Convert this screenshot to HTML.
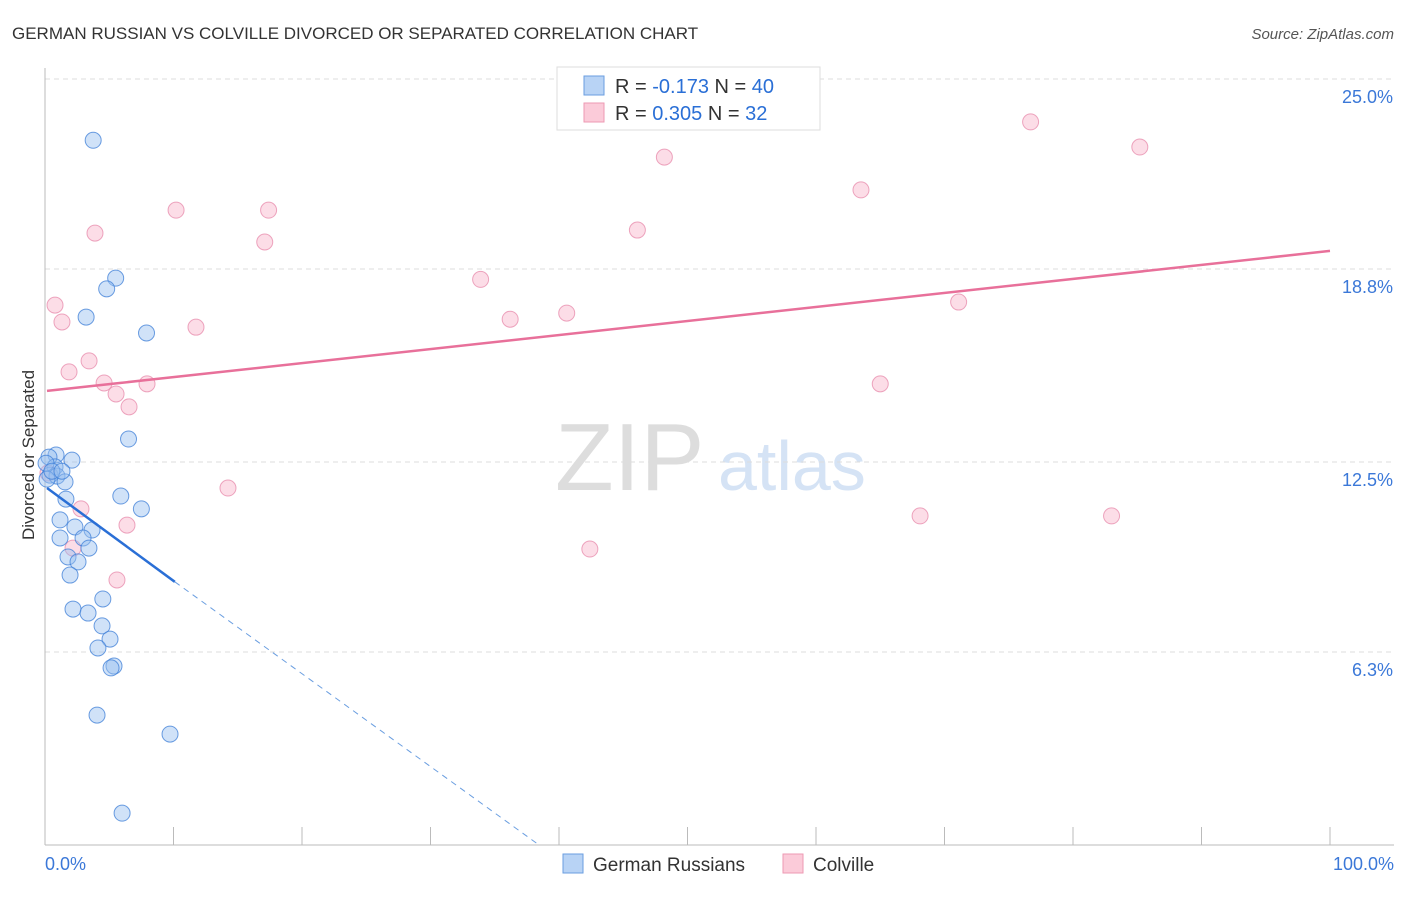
<!DOCTYPE html>
<html><head><meta charset="utf-8"><style>
body{margin:0;background:#fff;font-family:"Liberation Sans",sans-serif}
svg text{font-family:"Liberation Sans",sans-serif}
</style></head><body>
<svg id="c" width="1406" height="892" xmlns="http://www.w3.org/2000/svg">
<text x="12" y="39" font-size="17" fill="#333">GERMAN RUSSIAN VS COLVILLE DIVORCED OR SEPARATED CORRELATION CHART</text>
<text x="1394" y="39" font-size="15" fill="#555" text-anchor="end" font-style="italic">Source: ZipAtlas.com</text>
<text x="34" y="455" font-size="17" fill="#333" text-anchor="middle" transform="rotate(-90 34 455)">Divorced or Separated</text>
<text x="555" y="490" font-size="96" fill="#ddd" font-family="Liberation Serif">ZIP</text>
<text x="718" y="490" font-size="70" fill="#d5e3f5">atlas</text>
<g id="grid"></g><g id="pts"></g><g id="lines"></g>
<g>
<rect x="557" y="67" width="263" height="63" fill="#fff" stroke="#ddd"/>
<rect x="584" y="76" width="20" height="19" fill="#b8d3f5" stroke="#6a9ee0"/>
<rect x="584" y="103" width="20" height="19" fill="#fbcbd9" stroke="#ee9ab3"/>
<text x="615" y="93" font-size="20" fill="#333">R = <tspan fill="#2a6fd6">-0.173</tspan>   N = <tspan fill="#2a6fd6">40</tspan></text>
<text x="615" y="120" font-size="20" fill="#333">R = <tspan fill="#2a6fd6"> 0.305</tspan>   N = <tspan fill="#2a6fd6"> 32</tspan></text>
</g>
<g>
<rect x="563" y="854" width="20" height="19" fill="#b8d3f5" stroke="#6a9ee0"/>
<text x="593" y="871" font-size="19" fill="#333">German Russians</text>
<rect x="783" y="854" width="20" height="19" fill="#fbcbd9" stroke="#ee9ab3"/>
<text x="813" y="871" font-size="19" fill="#333">Colville</text>
</g>
</svg>
<script>
const yTicks=[25.0,18.8,12.5,6.3];
const yTickLabels=["25.0%","18.8%","12.5%","6.3%"];
const xTickLabels=["0.0%","100.0%"];
const blueX=[3.75,5.5,4.8,3.2,7.9,6.5,0.86,0.31,2.1,0.78,0.39,0.93,1.56,1.63,5.9,7.5,1.17,2.33,3.66,1.17,2.96,3.42,1.79,2.57,1.95,4.5,2.18,3.35,4.44,5.06,4.12,5.37,5.14,4.05,9.73,6.0,0.08,0.16,0.54,1.32];
const blueY=[23.0,18.5,18.15,17.23,16.71,13.25,12.73,12.66,12.56,12.34,12.07,12.04,11.85,11.29,11.39,10.97,10.61,10.38,10.28,10.02,10.02,9.69,9.4,9.24,8.81,8.03,7.7,7.57,7.15,6.72,6.43,5.84,5.78,4.24,3.62,1.04,12.46,11.94,12.2,12.2];
const pinkX=[0.78,1.32,3.89,10.2,17.4,17.1,11.75,3.43,1.87,4.6,5.53,7.94,6.54,14.24,2.8,6.38,5.6,2.18,33.9,36.2,40.6,46.1,48.2,63.5,76.7,85.2,71.1,65.0,68.1,83.0,42.4,0.23];
const pinkY=[17.62,17.07,19.97,20.72,20.72,19.68,16.9,15.8,15.44,15.08,14.72,15.05,14.3,11.65,10.97,10.44,8.65,9.69,18.46,17.16,17.36,20.07,22.45,21.38,23.6,22.78,17.72,15.05,10.74,10.74,9.66,12.14];
const lineX=[0,100];
const pinkLineY=[14.82,19.39];
const blueLineY=[11.65,-0.303*100+11.65];
const blueSolidEnd=10.1;
const X=v=>45+v*12.85, Y=v=>845-v*30.64;
const NS="http://www.w3.org/2000/svg";
function mk(t,a,p){const e=document.createElementNS(NS,t);for(const k in a)e.setAttribute(k,a[k]);document.getElementById(p).appendChild(e);return e;}
yTicks.forEach((t,i)=>{
const g=mk('line',{x1:45,x2:1394,y1:Y(t),y2:Y(t),stroke:'#ddd','stroke-dasharray':'5,4'},'grid');


const tx=mk('text',{x:1393,y:Y(t)+24,'font-size':18,fill:'#3b78d8','text-anchor':'end'},'grid');
tx.textContent=yTickLabels[i];


});
mk('line',{x1:45,x2:45,y1:68,y2:845,stroke:'#bbb'},'grid');
mk('line',{x1:45,x2:1394,y1:845,y2:845,stroke:'#bbb'},'grid');
for(let i=1;i<=10;i++){const t=mk('line',{x1:X(i*10),x2:X(i*10),y1:827,y2:845,stroke:'#bbb'},'grid');

}
[[0,'start',45],[1,'end',1394]].forEach(([i,a,x])=>{const t=mk('text',{x:x,y:870,'font-size':18,fill:'#3b78d8','text-anchor':a},'grid');t.textContent=xTickLabels[i];

});
pinkX.forEach((v,i)=>{const c=mk('circle',{cx:X(v),cy:Y(pinkY[i]),r:8,fill:'rgba(247,170,195,0.4)',stroke:'rgba(230,130,165,0.7)','stroke-width':1},'pts');

});
blueX.forEach((v,i)=>{const c=mk('circle',{cx:X(v),cy:Y(blueY[i]),r:8,fill:'rgba(150,190,240,0.45)',stroke:'rgba(60,125,215,0.75)','stroke-width':1},'pts');

});
const pl=mk('line',{x1:X(lineX[0])+2,y1:Y(pinkLineY[0]),x2:X(lineX[1]),y2:Y(pinkLineY[1]),stroke:'#e8709a','stroke-width':2.5},'lines');


const bAt=x=>blueLineY[0]+(blueLineY[1]-blueLineY[0])*x/100;
const bl=mk('line',{x1:X(0)+2,y1:Y(bAt(0)),x2:X(blueSolidEnd),y2:Y(bAt(blueSolidEnd)),stroke:'#2a6fd6','stroke-width':2.5},'lines');


const xz=-blueLineY[0]/((blueLineY[1]-blueLineY[0])/100);
const bd=mk('line',{x1:X(blueSolidEnd),y1:Y(bAt(blueSolidEnd)),x2:X(xz),y2:Y(0),stroke:'#6a9ee0','stroke-width':1,'stroke-dasharray':'6,5'},'lines');


</script>
</body></html>
